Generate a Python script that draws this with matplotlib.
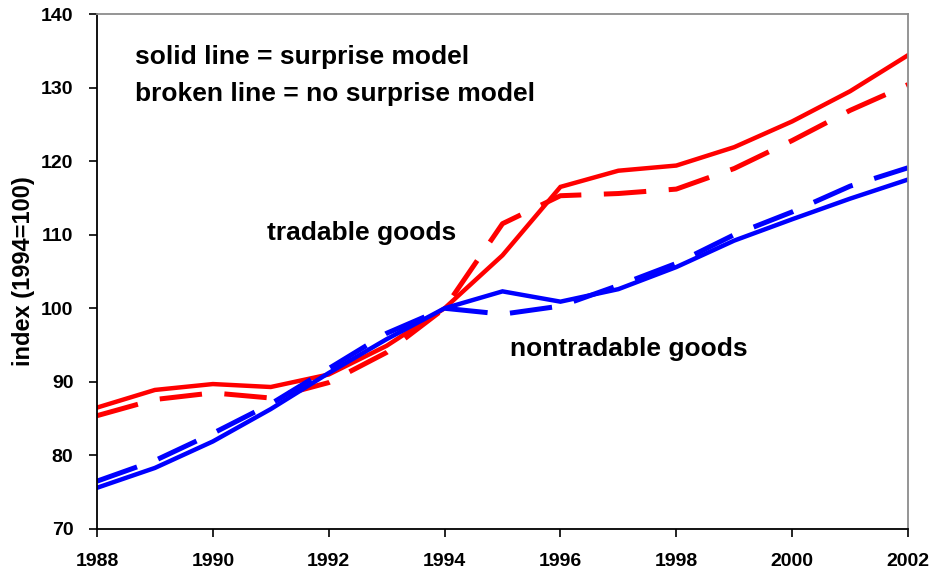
import matplotlib
matplotlib.use("Agg")
import matplotlib.pyplot as plt

years = list(range(1988, 2003))
tradable_surprise = [86.5, 88.9, 89.7, 89.3, 91.0, 94.9, 100.0, 107.2, 116.5, 118.7, 119.4, 121.9, 125.4, 129.5, 134.4]
tradable_nosurprise = [85.4, 87.6, 88.5, 87.8, 89.9, 94.0, 100.0, 111.5, 115.3, 115.6, 116.2, 119.0, 122.8, 126.9, 130.4]
nontradable_surprise = [75.6, 78.3, 81.9, 86.3, 91.2, 95.8, 100.0, 102.3, 100.9, 102.6, 105.6, 109.2, 112.1, 114.9, 117.5]
nontradable_nosurprise = [76.5, 79.3, 83.0, 87.0, 91.8, 96.6, 100.0, 99.2, 100.3, 103.1, 106.1, 110.0, 113.1, 116.6, 119.1]

xticks = list(range(1988, 2003, 2))
yticks = list(range(70, 141, 10))

plt.rcParams['font.family'] = ['Liberation Sans', 'DejaVu Sans']

fig = plt.figure(figsize=(9.38, 5.72), dpi=100)
ax = fig.add_axes([0.1034, 0.0752, 0.8646, 0.9003])

red = "#ff0000"
blue = "#0000ff"
ax.plot(years, tradable_surprise, color=red, lw=3.2, solid_joinstyle='miter')
ax.plot(years, tradable_nosurprise, color=red, lw=3.6, dashes=(8.5, 4.5), dash_capstyle='butt')
ax.plot(years, nontradable_surprise, color=blue, lw=3.2, solid_joinstyle='miter')
ax.plot(years, nontradable_nosurprise, color=blue, lw=3.6, dashes=(8.5, 4.5), dash_capstyle='butt')

ax.set_xlim(1988, 2002)
ax.set_ylim(70, 140)
ax.set_xticks(xticks)
ax.set_yticks(yticks)
ax.set_xticklabels([str(t) for t in xticks], fontsize=14, fontweight='bold')
ax.set_yticklabels([str(t) for t in yticks], fontsize=14, fontweight='bold')
ax.tick_params(axis='both', direction='out', length=6, width=1.2, color='black')
ax.tick_params(axis='x', pad=11)
ax.tick_params(axis='y', pad=11)

for s in ['left', 'bottom']:
    ax.spines[s].set_color('black')
    ax.spines[s].set_linewidth(1.3)
for s in ['top', 'right']:
    ax.spines[s].set_color('#8c8c8c')
    ax.spines[s].set_linewidth(1.3)

ax.set_ylabel("index (1994=100)", fontsize=17, fontweight='bold', labelpad=4)

ax.text(1988.66, 134.1, "solid line = surprise model", fontsize=19, fontweight='bold', va='center', ha='left')
ax.text(1988.66, 129.1, "broken line = no surprise model", fontsize=19, fontweight='bold', va='center', ha='left')
ax.text(1990.94, 110.2, "tradable goods", fontsize=19, fontweight='bold', va='center', ha='left')
ax.text(1995.13, 94.5, "nontradable goods", fontsize=19, fontweight='bold', va='center', ha='left')

fig.savefig("out.png", dpi=100)
